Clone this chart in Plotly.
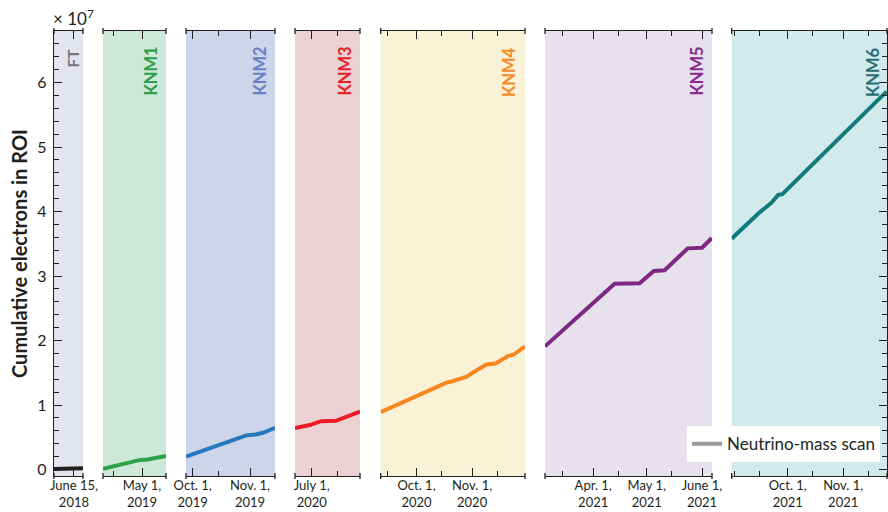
import plotly.graph_objects as go

# ---------------------------------------------------------------------------
# Data: cumulative electrons in the region of interest (units of 1e7)
# ---------------------------------------------------------------------------
campaigns = ["FT", "KNM1", "KNM2", "KNM3", "KNM4", "KNM5", "KNM6"]

ft_dates = ["2018-06-04", "2018-06-20"]
ft_counts = [0.01, 0.02]

knm1_dates = ["2019-04-09 08:00", "2019-04-30", "2019-05-04", "2019-05-14 08:00"]
knm1_counts = [0.01, 0.15, 0.155, 0.21]

knm2_dates = ["2019-09-27 10:00", "2019-10-08", "2019-10-23", "2019-10-30",
              "2019-11-04", "2019-11-08", "2019-11-14 12:00"]
knm2_counts = [0.20, 0.31, 0.45, 0.53, 0.545, 0.57, 0.645]

knm3_dates = ["2020-06-22", "2020-06-30", "2020-07-06", "2020-07-14", "2020-07-27"]
knm3_counts = [0.645, 0.69, 0.75, 0.755, 0.90]

knm4_dates = ["2020-09-11", "2020-10-18", "2020-10-21", "2020-10-29", "2020-11-03",
              "2020-11-09", "2020-11-14", "2020-11-21", "2020-11-24", "2020-11-30 12:00"]
knm4_counts = [0.89, 1.35, 1.37, 1.44, 1.53, 1.63, 1.645, 1.76, 1.78, 1.91]

knm5_dates = ["2021-03-05", "2021-04-03", "2021-04-13", "2021-04-27", "2021-05-05",
              "2021-05-11", "2021-05-24", "2021-06-01", "2021-06-06 12:00"]
knm5_counts = [1.91, 2.64, 2.88, 2.89, 3.08, 3.09, 3.43, 3.44, 3.59]

knm6_dates = ["2021-08-30 16:00", "2021-09-15", "2021-09-22", "2021-09-25 16:00",
              "2021-09-28", "2021-10-24", "2021-11-21 12:00", "2021-11-25 06:00"]
knm6_counts = [3.58, 3.98, 4.14, 4.26, 4.27, 4.99, 5.76, 5.86]

series_dates = [ft_dates, knm1_dates, knm2_dates, knm3_dates, knm4_dates, knm5_dates, knm6_dates]
series_counts = [ft_counts, knm1_counts, knm2_counts, knm3_counts, knm4_counts, knm5_counts, knm6_counts]

# Date ticks per campaign (labelled major ticks, unlabelled minor ticks)
major_ticks = [
    ["2018-06-15"],
    ["2019-05-01"],
    ["2019-10-01", "2019-11-01"],
    ["2020-07-01"],
    ["2020-10-01", "2020-11-01"],
    ["2021-04-01", "2021-05-01", "2021-06-01"],
    ["2021-10-01", "2021-11-01"],
]
major_labels = [
    ["June 15,<br>2018"],
    ["May 1,<br>2019"],
    ["Oct. 1,<br>2019", "Nov. 1,<br>2019"],
    ["July 1,<br>2020"],
    ["Oct. 1,<br>2020", "Nov. 1,<br>2020"],
    ["Apr. 1,<br>2021", "May 1,<br>2021", "June 1,<br>2021"],
    ["Oct. 1,<br>2021", "Nov. 1,<br>2021"],
]
minor_ticks = [
    [],
    ["2019-04-15"],
    ["2019-10-15"],
    ["2020-07-15"],
    ["2020-09-15", "2020-10-15", "2020-11-15"],
    ["2021-03-15", "2021-04-15", "2021-05-15"],
    ["2021-09-01", "2021-09-15", "2021-10-15", "2021-11-15"],
]

legend_label = "Neutrino-mass scan"

# ---------------------------------------------------------------------------
# Styling / layout
# ---------------------------------------------------------------------------
W, H = 888, 512
M_L, M_R, M_T, M_B = 54, 1, 31, 36
plot_w = W - M_L - M_R

# time window of each panel
x_ranges = [
    ["2018-06-04", "2018-06-20"],
    ["2019-04-09 08:00", "2019-05-14 08:00"],
    ["2019-09-27 10:00", "2019-11-14 12:00"],
    ["2020-06-22", "2020-07-27"],
    ["2020-09-11", "2020-11-30 12:00"],
    ["2021-03-05", "2021-06-06 14:00"],
    ["2021-08-30 16:00", "2021-11-25 12:00"],
]
# horizontal pixel extent of each panel
panel_px = [(54, 83), (103, 166), (186, 275), (295, 360), (380.7, 525), (545, 712), (731.7, 887)]

line_colors = ["#231f20", "#2fa146", "#2677bb", "#ec1c24", "#f7861f", "#7d2883", "#137b7b"]
label_colors = ["#777777", "#2e9e48", "#6b80c4", "#e8202a", "#f58a2a", "#8b2a8e", "#2b6f74"]
bg_colors = ["#e3e5ee", "#cde8d8", "#cdd5ea", "#ebd0d4", "#faf2d7", "#e7e1ee", "#d1ebec"]
# fine placement of the rotated campaign names (x, y shift in px)
label_shift = [(0, -16), (-4, -14), (-4, -14), (-4, -14), (-4, -14), (-4, -14), (-2, -14)]

AX = "#231f20"
FONT = "Lato"

fig = go.Figure()

for i, name in enumerate(campaigns):
    xa = "x" if i == 0 else f"x{i + 1}"
    fig.add_trace(go.Scatter(
        x=series_dates[i], y=series_counts[i], mode="lines", name=name,
        line=dict(color=line_colors[i], width=4), xaxis=xa, yaxis="y",
        showlegend=False, hoverinfo="skip",
    ))

# legend entry for the neutrino-mass scan
fig.add_trace(go.Scatter(
    x=[None], y=[None], mode="lines", name=legend_label,
    line=dict(color="#9b9b9b", width=4), xaxis="x7", yaxis="y2", showlegend=True,
))

layout = dict(
    width=W, height=H, autosize=False,
    margin=dict(l=M_L, r=M_R, t=M_T, b=M_B, autoexpand=False),
    paper_bgcolor="white", plot_bgcolor="rgba(0,0,0,0)",
    font=dict(family=FONT, color=AX, size=14),
    showlegend=True,
    legend=dict(x=0.9916, y=0.031, xanchor="right", yanchor="bottom",
                bgcolor="white", borderwidth=0, font=dict(size=17, family=FONT, color=AX),
                itemwidth=30),
)

y_range = [-0.1, 6.8]
layout["yaxis"] = dict(
    range=y_range, anchor="x", side="left", showline=True, linecolor=AX, linewidth=1.3,
    ticks="inside", ticklen=8, tickwidth=1.3, tickcolor=AX, dtick=1, tick0=0,
    minor=dict(dtick=0.2, ticks="inside", ticklen=5, tickwidth=1.1, tickcolor=AX),
    showgrid=False, zeroline=False, automargin=False, ticklabelstandoff=3,
    tickfont=dict(size=16, family=FONT, color=AX),
    title=dict(text="<b>Cumulative electrons in ROI</b>", standoff=4,
               font=dict(size=20, family=FONT, color=AX)),
)
layout["yaxis2"] = dict(
    range=y_range, anchor="x7", side="right", overlaying="y", showline=True,
    linecolor=AX, linewidth=1.3, ticks="inside", ticklen=8, tickwidth=1.3, tickcolor=AX,
    dtick=1, tick0=0, showticklabels=False, showgrid=False, zeroline=False, automargin=False,
    minor=dict(dtick=0.2, ticks="inside", ticklen=5, tickwidth=1.1, tickcolor=AX),
)

shapes = []
annotations = []
for i, name in enumerate(campaigns):
    key = "xaxis" if i == 0 else f"xaxis{i + 1}"
    ref = "x" if i == 0 else f"x{i + 1}"
    x0, x1 = panel_px[i]
    d0 = (x0 - M_L) / plot_w
    d1 = (x1 - M_L) / plot_w
    layout[key] = dict(
        type="date", range=x_ranges[i], domain=[max(0, d0), min(1, d1)], anchor="y",
        showline=True, linecolor=AX, linewidth=1.3, mirror="ticks", automargin=False,
        ticks="inside", ticklen=8, tickwidth=1.3, tickcolor=AX,
        tickmode="array", tickvals=major_ticks[i], ticktext=major_labels[i],
        ticklabelstandoff=-3,
        minor=dict(tickmode="array", tickvals=minor_ticks[i], ticks="inside",
                   ticklen=4.5, tickwidth=1.1, tickcolor=AX),
        showgrid=False, zeroline=False,
        tickfont=dict(size=13, family=FONT, color=AX),
    )
    # shaded campaign window
    shapes.append(dict(type="rect", xref=f"{ref} domain", yref="y domain",
                       x0=0, x1=1, y0=0, y1=1, fillcolor=bg_colors[i],
                       line=dict(width=0), layer="below"))
    # small break markers at both ends of the top and bottom axis lines
    for xe in (0, 1):
        for ye in (0, 1):
            shapes.append(dict(type="line", xref=f"{ref} domain", yref="paper",
                               ysizemode="pixel", yanchor=ye, x0=xe, x1=xe, y0=-3, y1=3,
                               line=dict(color=AX, width=1.3)))
    # campaign name, rotated, in the upper right of each panel
    dx, dy = label_shift[i]
    annotations.append(dict(
        text=f"<b>{name}</b>", textangle=-90, xref=f"{ref} domain", x=1, xanchor="right",
        xshift=dx, yref="paper", y=1, yanchor="top", yshift=dy, showarrow=False,
        font=dict(size=16.5 if i else 15.5, family=FONT, color=label_colors[i]),
    ))

annotations.append(dict(
    text="× 10<sup>7</sup>", xref="paper", yref="paper", x=0, y=1, xanchor="left",
    yanchor="bottom", xshift=-3, yshift=0, showarrow=False,
    font=dict(size=17, family=FONT, color=AX),
))

layout["shapes"] = shapes
layout["annotations"] = annotations
fig.update_layout(**layout)

fig.write_html("out.html", config={"responsive": False})
